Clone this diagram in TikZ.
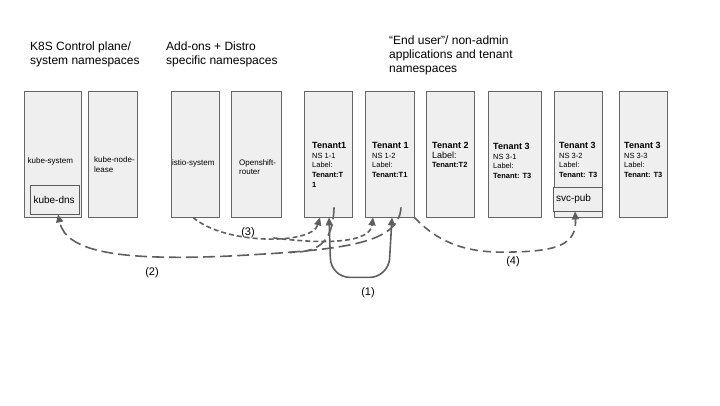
\documentclass[tikz,border=0pt]{standalone}
\usepackage{fontspec}
\setmainfont{Liberation Sans}
\usepackage{tikz}
\usetikzlibrary{arrows.meta, positioning, calc}
\definecolor{nsfill}{RGB}{239, 239, 239}
\definecolor{nsline}{RGB}{102, 102, 102}
\definecolor{flow}{RGB}{95, 95, 95}
\newcommand\tenantname[1]{{\fontsize{9}{10}\selectfont\bfseries #1}}

\begin{document}
\begin{tikzpicture}[
    x=1pt, y=-1pt,
    ns/.style={rectangle, draw=nsline, fill=nsfill, line width=0.8pt, minimum height=126pt, inner sep=0pt},
    svcbox/.style={rectangle, draw=nsline!90!black, fill=nsfill, line width=0.8pt, inner xsep=3pt, inner ysep=0pt, text width=43pt, align=left, font=\fontsize{10}{12}\selectfont},
    nstext/.style={anchor=north west, align=left, inner sep=0pt, font=\fontsize{7.5}{9.7}\selectfont},
    heading/.style={anchor=north west, align=left, inner sep=0pt, font=\fontsize{12}{14}\selectfont},
    num/.style={inner sep=0pt, font=\fontsize{11}{13}\selectfont},
    call/.style={draw=flow, line width=1.6pt},
    longdash/.style={dash pattern=on 12pt off 5pt},
    middash/.style={dash pattern=on 8pt off 5pt},
    shortdash/.style={dash pattern=on 5pt off 3pt},
    >={Triangle[length=8pt, width=7pt]}
  ]
  \useasboundingbox (0,0) rectangle (720,405);

  \node[heading] (hsys) at (30,42) {K8S Control plane/\\system namespaces};
  \node[heading] (hadd) at (166,42) {Add-ons + Distro\\specific namespaces};
  \node[heading] (husr) at (389,36) {“End user”/ non-admin\\applications and tenant\\namespaces};

  \foreach \n/\x/\w in {ks/52.5/57, knl/112.5/49, istio/195/48, osr/256/50, t11/328/48, t12/389.5/49, t2/450/48, t31/514.5/53, t32/578/48, t33/643/48} {
    \node[ns, minimum width=\w pt] (\n) at (\x,154) {};
  }

  \node[svcbox, minimum height=29pt] (kdns) at (55,199.5) {kube-dns};
  \node[svcbox, minimum height=24pt] (svcpub) at (577.5,199) {svc-pub};

  \node[nstext, font=\fontsize{8}{9.5}\selectfont, anchor=west] (kstxt) at (27.5,161) {kube-system};
  \node[nstext, font=\fontsize{8}{9.5}\selectfont, anchor=west] (knltxt) at (94,164.5) {kube-node-\\lease};
  \node[nstext, font=\fontsize{8}{9.5}\selectfont, anchor=west] (istiotxt) at (172,163) {istio-system};
  \node[nstext, font=\fontsize{8}{9.5}\selectfont, anchor=west] (osrtxt) at (239,167) {Openshift-\\router};

  \node[nstext] (t11txt) at (312,142) {\tenantname{Tenant1}\\NS 1-1\\Label:\\\textbf{Tenant:T}\\\textbf{1}};
  \node[nstext] (t12txt) at (372,142) {\tenantname{Tenant 1}\\NS 1-2\\Label:\\\textbf{Tenant:T1}};
  \node[nstext] (t2txt) at (432,142) {\tenantname{Tenant 2}\\{\fontsize{9}{10}\selectfont Label:}\\\textbf{Tenant:T2}};
  \node[nstext] (t31txt) at (493,143) {\tenantname{Tenant 3}\\NS 3-1\\Label:\\\textbf{Tenant: T3}};
  \node[nstext] (t32txt) at (559,142) {\tenantname{Tenant 3}\\NS 3-2\\Label:\\\textbf{Tenant: T3}};
  \node[nstext] (t33txt) at (624,142) {\tenantname{Tenant 3}\\NS 3-3\\Label:\\\textbf{Tenant: T3}};

  \coordinate (t11tick) at ([xshift=6pt, yshift=10pt]t11.south);
  \coordinate (t12tick) at ([xshift=11.5pt, yshift=10pt]t12.south);

  % (1)
  \draw[call, <->, rounded corners=19pt] ([xshift=1pt]t11.south) -- ([xshift=3pt, yshift=-60pt]t11.south)
    -- ([xshift=-1pt, yshift=-60pt]t12.south) -- ([xshift=2.5pt]t12.south);
  % (2)
  \draw[call, longdash] (t11tick) .. controls (333,246) and (315,252) .. (290,252.5);
  \draw[call, longdash, ->] (t12tick) .. controls (399,245) and (340,250) .. (230,256)
    .. controls (120,261) and (66,252) .. ([xshift=3pt]kdns.south);
  % (3)
  \draw[call, shortdash, ->] ([xshift=-2pt]istio.south) .. controls (225,245) and (312,245) .. coordinate[pos=0.55] (fork3) ([xshift=-8pt]t11.south);
  \draw[call, shortdash, ->] (fork3) .. controls (330,245) and (370,242) .. ([xshift=-16.5pt]t12.south);
  % (4)
  \draw[call, middash, ->] (t12.south east) .. controls (445,250) and (480,253) .. (513,252)
    .. controls (556,251) and (577,245) .. ([xshift=-2.5pt]svcpub.south);

  \node[num] (n1) at (368,293) {(1)};
  \node[num] (n2) at (152,273) {(2)};
  \node[num] (n3) at (248,233) {(3)};
  \node[num] (n4) at (513,262) {(4)};

\end{tikzpicture}
\end{document}
